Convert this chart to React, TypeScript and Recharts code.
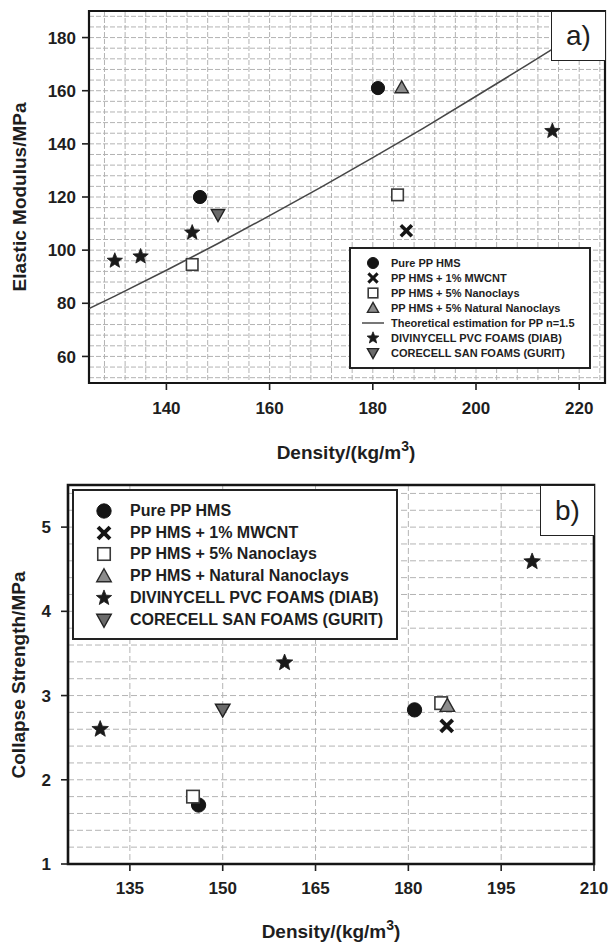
import React from 'react';
import { ScatterChart, Scatter, XAxis, YAxis, CartesianGrid, ReferenceArea } from 'recharts';

const FONT = '"Liberation Sans", Arial, Helvetica, sans-serif';
const INK = '#1e1e1e';

// ---------- Panel a) Elastic modulus vs density ----------
const aPurePP = [{ density: 146.5, modulus: 120 }, { density: 181, modulus: 161 }];
const aMWCNT = [{ density: 186.5, modulus: 107.3 }];
const aNanoclays = [{ density: 145, modulus: 94.6 }, { density: 184.8, modulus: 120.8 }];
const aNatural = [{ density: 185.6, modulus: 161.2 }];
const aTheory = [
  { density: 125, modulus: 78 },
  { density: 130, modulus: 82.7 },
  { density: 140, modulus: 92.4 },
  { density: 150, modulus: 102.5 },
  { density: 160, modulus: 113 },
  { density: 170, modulus: 123.7 },
  { density: 180, modulus: 134.8 },
  { density: 190, modulus: 146.1 },
  { density: 200, modulus: 157.9 },
  { density: 210, modulus: 169.8 },
  { density: 218, modulus: 179.5 },
  { density: 225, modulus: 188 },
];
const aDivinycell = [
  { density: 130, modulus: 96 },
  { density: 135, modulus: 97.6 },
  { density: 145, modulus: 106.6 },
  { density: 214.8, modulus: 144.8 },
];
const aCorecell = [{ density: 150, modulus: 113.3 }];

const aXDomain = [125, 225];
const aYDomain = [50, 190];
const aXGrid = [128, 132, 136, 140, 144, 148, 152, 156, 160, 164, 168, 172, 176, 180, 184, 188, 192, 196, 200, 204, 208, 212, 216, 220, 224];
const aYGrid = [52, 56, 60, 64, 68, 72, 76, 80, 84, 88, 92, 96, 100, 104, 108, 112, 116, 120, 124, 128, 132, 136, 140, 144, 148, 152, 156, 160, 164, 168, 172, 176, 180, 184, 188];
const aXLabels = [140, 160, 180, 200, 220];
const aYLabels = [60, 80, 100, 120, 140, 160, 180];

// ---------- Panel b) Collapse strength vs density ----------
const bPurePP = [{ density: 146.1, strength: 1.7 }, { density: 181, strength: 2.83 }];
const bMWCNT = [{ density: 186.2, strength: 2.64 }];
const bNanoclays = [{ density: 145.2, strength: 1.8 }, { density: 185.3, strength: 2.91 }];
const bNatural = [{ density: 186.3, strength: 2.88 }];
const bDivinycell = [
  { density: 130.2, strength: 2.6 },
  { density: 160, strength: 3.39 },
  { density: 200, strength: 4.59 },
];
const bCorecell = [{ density: 150, strength: 2.83 }];

const bXDomain = [125, 210];
const bYDomain = [1, 5.5];
const bXTicks = [135, 150, 165, 180, 195, 210];
const bYGrid = [1, 1.2, 1.4, 1.6, 1.8, 2, 2.2, 2.4, 2.6, 2.8, 3, 3.2, 3.4, 3.6, 3.8, 4, 4.2, 4.4, 4.6, 4.8, 5, 5.2, 5.4];
const bYLabels = [1, 2, 3, 4, 5];

const aLegend = [
  { key: 'circle', label: 'Pure PP HMS' },
  { key: 'x', label: 'PP HMS + 1% MWCNT' },
  { key: 'square', label: 'PP HMS + 5% Nanoclays' },
  { key: 'triangle', label: 'PP HMS + 5% Natural Nanoclays' },
  { key: 'line', label: 'Theoretical estimation for PP n=1.5' },
  { key: 'star', label: 'DIVINYCELL PVC FOAMS (DIAB)' },
  { key: 'down', label: 'CORECELL SAN FOAMS (GURIT)' },
];
const bLegend = [
  { key: 'circle', label: 'Pure PP HMS' },
  { key: 'x', label: 'PP HMS + 1% MWCNT' },
  { key: 'square', label: 'PP HMS + 5% Nanoclays' },
  { key: 'triangle', label: 'PP HMS + Natural Nanoclays' },
  { key: 'star', label: 'DIVINYCELL PVC FOAMS (DIAB)' },
  { key: 'down', label: 'CORECELL SAN FOAMS (GURIT)' },
];

// ---------- marker shapes ----------
function starPath(cx: number, cy: number, R: number, r: number) {
  let d = '';
  for (let i = 0; i < 10; i++) {
    const ang = -Math.PI / 2 + (i * Math.PI) / 5;
    const rad = i % 2 === 0 ? R : r;
    d += (i === 0 ? 'M' : 'L') + (cx + rad * Math.cos(ang)).toFixed(2) + ',' + (cy + rad * Math.sin(ang)).toFixed(2);
  }
  return d + 'Z';
}

function Marker({ kind, cx, cy, s }: { kind: string; cx: number; cy: number; s: number }) {
  switch (kind) {
    case 'circle':
      return <circle cx={cx} cy={cy} r={s * 0.55} fill="#151515" stroke="#151515" strokeWidth={1} />;
    case 'x': {
      const h = s * 0.46;
      return (
        <g stroke="#151515" strokeWidth={s * 0.3} strokeLinecap="butt">
          <line x1={cx - h} y1={cy - h} x2={cx + h} y2={cy + h} />
          <line x1={cx - h} y1={cy + h} x2={cx + h} y2={cy - h} />
        </g>
      );
    }
    case 'square': {
      const h = s * 0.48;
      return <rect x={cx - h} y={cy - h} width={2 * h} height={2 * h} fill="#ffffff" stroke="#3a3a3a" strokeWidth={1.6} />;
    }
    case 'triangle': {
      const h = s * 0.56;
      return (
        <path
          d={`M${cx},${cy - h}L${cx + h},${cy + h * 0.78}L${cx - h},${cy + h * 0.78}Z`}
          fill="#8c8c8c"
          stroke="#2a2a2a"
          strokeWidth={1.4}
        />
      );
    }
    case 'down': {
      const h = s * 0.56;
      return (
        <path
          d={`M${cx - h},${cy - h * 0.78}L${cx + h},${cy - h * 0.78}L${cx},${cy + h}Z`}
          fill="#6a6a6a"
          stroke="#222"
          strokeWidth={1.4}
        />
      );
    }
    case 'star':
      return <path d={starPath(cx, cy, s * 0.62, s * 0.27)} fill="#1a1a1a" stroke="#1a1a1a" strokeWidth={0.8} />;
    default:
      return <g />;
  }
}

const shapeOf = (kind: string, s: number) => (props: any) => {
  if (props.cx == null || props.cy == null) return <g />;
  return <Marker kind={kind} cx={props.cx} cy={props.cy} s={s} />;
};

// ---------- ticks ----------
const makeXTick = (labels: number[], labelDy: number, fontSize: number) => (props: any) => {
  const { x, y, payload } = props;
  if (!labels.includes(payload.value)) return <g />;
  return (
    <g>
      <line x1={x} x2={x} y1={y} y2={y + 7} stroke={INK} strokeWidth={1.6} />
      <text x={x} y={y + labelDy} textAnchor="middle" fontFamily={FONT} fontWeight="bold" fontSize={fontSize} fill={INK}>
        {payload.value}
      </text>
    </g>
  );
};

const makeYTick = (labels: number[], labelDx: number, fontSize: number) => (props: any) => {
  const { x, y, payload } = props;
  if (!labels.some((v) => Math.abs(v - payload.value) < 1e-6)) return <g />;
  return (
    <g>
      <line x1={x - 7} x2={x} y1={y} y2={y} stroke={INK} strokeWidth={1.6} />
      <text x={x - labelDx} y={y} dy="0.36em" textAnchor="end" fontFamily={FONT} fontWeight="bold" fontSize={fontSize} fill={INK}>
        {payload.value}
      </text>
    </g>
  );
};

function LegendIcon({ kind, s }: { kind: string; s: number }) {
  const w = 24;
  const h = 18;
  return (
    <svg width={w} height={h} style={{ display: 'block' }}>
      {kind === 'line' ? (
        <line x1={1} x2={w - 1} y1={h / 2} y2={h / 2} stroke="#555" strokeWidth={1.6} />
      ) : (
        <Marker kind={kind} cx={w / 2} cy={h / 2} s={s} />
      )}
    </svg>
  );
}

function LegendBox({ items, left, top, width, height, fontSize, rowH, padTop, iconX, textX, s, border }: any) {
  return (
    <div
      style={{
        position: 'absolute',
        left,
        top,
        width,
        height,
        boxSizing: 'border-box',
        border: `${border}px solid #222`,
        background: '#fff',
        fontFamily: FONT,
        fontWeight: 'bold',
        fontSize,
        color: INK,
      }}
    >
      {items.map((it: any, i: number) => (
        <div
          key={it.label}
          style={{ position: 'absolute', top: padTop + i * rowH - 9, left: 0, height: 18, display: 'flex', alignItems: 'center', whiteSpace: 'nowrap' }}
        >
          <div style={{ position: 'absolute', left: iconX - 12 }}>
            <LegendIcon kind={it.key} s={s} />
          </div>
          <div style={{ position: 'absolute', left: textX, lineHeight: '18px' }}>{it.label}</div>
        </div>
      ))}
    </div>
  );
}

function PanelTag({ text, left, top, width, height }: any) {
  return (
    <div
      style={{
        position: 'absolute',
        left,
        top,
        width,
        height,
        boxSizing: 'border-box',
        border: '1.5px solid #222',
        background: '#fff',
        fontFamily: FONT,
        fontSize: 28,
        color: INK,
        display: 'flex',
        alignItems: 'center',
        justifyContent: 'center',
        lineHeight: 1,
      }}
    >
      {text}
    </div>
  );
}

export default function App() {
  return (
    <div style={{ position: 'absolute', left: 0, top: 0, width: 611, height: 944, background: '#fff', overflow: 'hidden' }}>
      {/* Panel a */}
      <div style={{ position: 'absolute', left: 0, top: 0 }}>
        <ScatterChart width={611} height={470} margin={{ top: 11, right: 6, left: 0, bottom: 0 }}>
          <CartesianGrid stroke="#b3b3b3" strokeDasharray="5 2" strokeWidth={1} />
          <XAxis
            type="number"
            dataKey="density"
            domain={aXDomain}
            ticks={aXGrid}
            interval={0}
            height={87}
            axisLine={false}
            tickLine={false}
            tickSize={0}
            tickMargin={0}
            tick={makeXTick(aXLabels, 31, 17)}
            allowDataOverflow
          />
          <YAxis
            type="number"
            dataKey="modulus"
            domain={aYDomain}
            ticks={aYGrid}
            interval={0}
            width={89}
            axisLine={false}
            tickLine={false}
            tickSize={0}
            tickMargin={0}
            tick={makeYTick(aYLabels, 13, 17)}
            allowDataOverflow
          />
          <Scatter
            data={aTheory}
            line={{ stroke: '#474747', strokeWidth: 1.6 }}
            lineType="joint"
            shape={() => <g />}
            isAnimationActive={false}
          />
          <Scatter data={aPurePP} shape={shapeOf('circle', 12)} isAnimationActive={false} />
          <Scatter data={aMWCNT} shape={shapeOf('x', 12)} isAnimationActive={false} />
          <Scatter data={aNanoclays} shape={shapeOf('square', 12)} isAnimationActive={false} />
          <Scatter data={aNatural} shape={shapeOf('triangle', 12)} isAnimationActive={false} />
          <Scatter data={aDivinycell} shape={shapeOf('star', 13)} isAnimationActive={false} />
          <Scatter data={aCorecell} shape={shapeOf('down', 12)} isAnimationActive={false} />
          <ReferenceArea
            x1={aXDomain[0]}
            x2={aXDomain[1]}
            y1={aYDomain[0]}
            y2={aYDomain[1]}
            fill="none"
            stroke="#151515"
            strokeWidth={2.2}
            ifOverflow="visible"
          />
        </ScatterChart>
      </div>

      {/* Panel b */}
      <div style={{ position: 'absolute', left: 0, top: 470 }}>
        <ScatterChart width={611} height={474} margin={{ top: 15, right: 17, left: 0, bottom: 0 }}>
          <CartesianGrid stroke="#b4b4b4" strokeDasharray="6 3" strokeWidth={1} />
          <XAxis
            type="number"
            dataKey="density"
            domain={bXDomain}
            ticks={bXTicks}
            interval={0}
            height={80}
            axisLine={false}
            tickLine={false}
            tickSize={0}
            tickMargin={0}
            tick={makeXTick(bXTicks, 30, 17)}
            allowDataOverflow
          />
          <YAxis
            type="number"
            dataKey="strength"
            domain={bYDomain}
            ticks={bYGrid}
            interval={0}
            width={68}
            axisLine={false}
            tickLine={false}
            tickSize={0}
            tickMargin={0}
            tick={makeYTick(bYLabels, 17, 17)}
            allowDataOverflow
          />
          <Scatter data={bPurePP} shape={shapeOf('circle', 13)} isAnimationActive={false} />
          <Scatter data={bMWCNT} shape={shapeOf('x', 13)} isAnimationActive={false} />
          <Scatter data={bNanoclays} shape={shapeOf('square', 13)} isAnimationActive={false} />
          <Scatter data={bNatural} shape={shapeOf('triangle', 13)} isAnimationActive={false} />
          <Scatter data={bDivinycell} shape={shapeOf('star', 14)} isAnimationActive={false} />
          <Scatter data={bCorecell} shape={shapeOf('down', 13)} isAnimationActive={false} />
          <ReferenceArea
            x1={bXDomain[0]}
            x2={bXDomain[1]}
            y1={bYDomain[0]}
            y2={bYDomain[1]}
            fill="none"
            stroke="#151515"
            strokeWidth={2.6}
            ifOverflow="visible"
          />
        </ScatterChart>
      </div>

      {/* Axis titles */}
      <svg width={611} height={944} style={{ position: 'absolute', left: 0, top: 0, pointerEvents: 'none' }}>
        <text transform="translate(26,197) rotate(-90)" textAnchor="middle" fontFamily={FONT} fontWeight="bold" fontSize={19} fill={INK}>
          Elastic Modulus/MPa
        </text>
        <text x={346} y={459} textAnchor="middle" fontFamily={FONT} fontWeight="bold" fontSize={19} fill={INK}>
          <tspan>Density/(kg/m</tspan>
          <tspan dy={-8} fontSize={14}>3</tspan>
          <tspan dy={8}>)</tspan>
        </text>
        <text transform="translate(25,675) rotate(-90)" textAnchor="middle" fontFamily={FONT} fontWeight="bold" fontSize={19} fill={INK}>
          Collapse Strength/MPa
        </text>
        <text x={331} y={938} textAnchor="middle" fontFamily={FONT} fontWeight="bold" fontSize={19} fill={INK}>
          <tspan>Density/(kg/m</tspan>
          <tspan dy={-8} fontSize={14}>3</tspan>
          <tspan dy={8}>)</tspan>
        </text>
      </svg>

      {/* Legends */}
      <LegendBox items={aLegend} left={349} top={247} width={242} height={122} fontSize={11} rowH={15} padTop={14} iconX={22} textX={40} s={10} border={2} />
      <LegendBox items={bLegend} left={72} top={489} width={326} height={151} fontSize={16} rowH={21.7} padTop={20} iconX={30} textX={56} s={13} border={2} />

      {/* Panel tags */}
      <PanelTag text="a)" left={551} top={11} width={55} height={50} />
      <PanelTag text="b)" left={540} top={485} width={55} height={51} />
    </div>
  );
}
